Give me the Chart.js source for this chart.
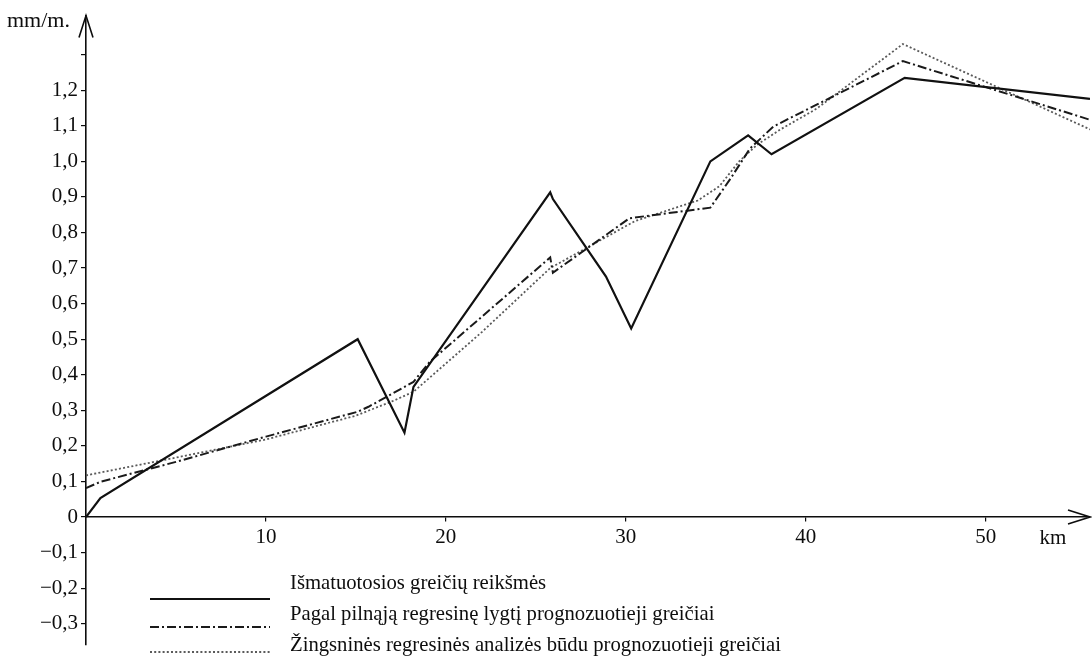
<!DOCTYPE html>
<html>
<head>
<meta charset="utf-8">
<script src="https://cdn.jsdelivr.net/npm/chart.js@4.4.1/dist/chart.umd.min.js"></script>
<style>
  html, body { margin: 0; padding: 0; background: #fff; }
  #wrap { width: 1092px; height: 670px; }
</style>
</head>
<body>
<div id="wrap"><canvas id="myChart" width="1092" height="670"></canvas></div>
<script>
// Išmatuotosios greičių reikšmės (measured)
const measuredKm = [0, 0.8, 15.1, 17.7, 18.2, 25.8, 25.95, 28.9, 30.3, 34.7, 36.8, 38.1, 45.5, 55.8];
const measuredVal = [0, 0.053, 0.50, 0.237, 0.366, 0.913, 0.894, 0.676, 0.53, 1.0, 1.073, 1.02, 1.235, 1.176];

// Pagal pilnąją regresinę lygtį prognozuotieji greičiai
const fullKm = [0, 0.8, 5, 10, 15.1, 15.7, 16.7, 18.2, 19.1, 25.8, 25.95, 30.2, 34.7, 35.8, 36.9, 38.2, 45.4, 55.8];
const fullVal = [0.081, 0.099, 0.155, 0.226, 0.296, 0.31, 0.338, 0.38, 0.436, 0.73, 0.687, 0.84, 0.87, 0.95, 1.036, 1.098, 1.282, 1.117];

// Žingsninės regresinės analizės būdu prognozuotieji greičiai
const stepKm = [0, 5, 10, 15, 17, 18.2, 22, 25.8, 30.5, 34, 35.2, 36.3, 37.3, 38.6, 40.6, 45.4, 55.8];
const stepVal = [0.117, 0.167, 0.218, 0.285, 0.325, 0.352, 0.52, 0.70, 0.832, 0.89, 0.93, 1.0, 1.047, 1.09, 1.148, 1.33, 1.09];

const labels = [
  "Išmatuotosios greičių reikšmės",
  "Pagal pilnąją regresinę lygtį prognozuotieji greičiai",
  "Žingsninės regresinės analizės būdu prognozuotieji greičiai",
];

const serif = "'Liberation Serif', 'DejaVu Serif', serif";
const ink = "#0d0d0d";

const toPoints = (xs, ys) => xs.map((x, i) => ({ x: x, y: ys[i] }));

const fmt = (v) => {
  const r = Math.round(v * 10) / 10;
  if (r === 0) return "0";
  const s = Math.abs(r).toFixed(1).replace(".", ",");
  return r < 0 ? "\u2212" + s : s;
};

// axis arrows, unit labels and legend drawn on the canvas
const decorations = {
  id: "decorations",
  afterDraw(chart) {
    const ctx = chart.ctx;
    const area = chart.chartArea;
    const x0 = chart.scales.x.getPixelForValue(0);
    const y0 = chart.scales.y.getPixelForValue(0);
    ctx.save();
    ctx.strokeStyle = ink;
    ctx.lineWidth = 1.6;
    ctx.beginPath();
    ctx.moveTo(x0 - 7, area.top + 22);
    ctx.lineTo(x0, area.top);
    ctx.lineTo(x0 + 7, area.top + 22);
    ctx.moveTo(area.right - 22, y0 - 7);
    ctx.lineTo(area.right, y0);
    ctx.lineTo(area.right - 22, y0 + 7);
    ctx.stroke();

    ctx.fillStyle = ink;
    ctx.textBaseline = "alphabetic";
    ctx.textAlign = "left";
    ctx.font = "22px " + serif;
    ctx.fillText("mm/m.", 7, 27);
    ctx.font = "21px " + serif;
    ctx.fillText("km", chart.scales.x.getPixelForValue(53.0), y0 + 27);

    // legend
    const rows = [599, 627, 652];
    const textBase = [589, 620, 651];
    chart.data.datasets.forEach((ds, i) => {
      ctx.strokeStyle = ds.borderColor;
      ctx.lineWidth = ds.borderWidth;
      ctx.setLineDash(ds.borderDash || []);
      ctx.beginPath();
      ctx.moveTo(150, rows[i]);
      ctx.lineTo(270, rows[i]);
      ctx.stroke();
      ctx.setLineDash([]);
      ctx.font = "22px " + serif;
      ctx.save();
      ctx.translate(290, textBase[i]);
      ctx.scale(0.94, 1);
      ctx.fillText(ds.label, 0, 0);
      ctx.restore();
    });
    ctx.restore();
  },
};

const data = {
  datasets: [
    {
      label: labels[0],
      data: toPoints(measuredKm, measuredVal),
      borderColor: "#111111",
      borderWidth: 2.2,
      borderDash: [],
    },
    {
      label: labels[1],
      data: toPoints(fullKm, fullVal),
      borderColor: "#1a1a1a",
      borderWidth: 2,
      borderDash: [9, 3, 2, 3],
    },
    {
      label: labels[2],
      data: toPoints(stepKm, stepVal),
      borderColor: "#5a5a5a",
      borderWidth: 1.8,
      borderDash: [2, 2.2],
    },
  ],
};

const config = {
  type: "line",
  data: data,
  options: {
    responsive: false,
    animation: false,
    devicePixelRatio: 1,
    layout: { padding: { top: 13, right: 2, bottom: 25, left: 0 } },
    elements: {
      point: { radius: 0 },
      line: { tension: 0, fill: false },
    },
    plugins: {
      legend: { display: false },
      tooltip: { enabled: false },
    },
    scales: {
      x: {
        type: "linear",
        position: { y: 0 },
        min: 0,
        max: 55.8,
        grid: { drawOnChartArea: false, tickLength: 4, color: ink, lineWidth: 1.2 },
        border: { color: ink, width: 1.6 },
        ticks: {
          stepSize: 10,
          includeBounds: false,
          padding: 4,
          maxRotation: 0,
          color: ink,
          font: { family: serif, size: 21 },
        },
        afterBuildTicks: (s) => {
          s.ticks = s.ticks.filter((t) => t.value > 0 && t.value < 55);
        },
      },
      y: {
        type: "linear",
        min: -0.36,
        max: 1.41,
        afterFit: (s) => {
          s.width = 86;
        },
        grid: { drawOnChartArea: false, tickLength: 5, color: ink, lineWidth: 1.2 },
        border: { color: ink, width: 1.6 },
        ticks: {
          stepSize: 0.1,
          includeBounds: false,
          padding: 3,
          color: ink,
          font: { family: serif, size: 21 },
          callback: (v) => (Math.round(v * 10) === 13 ? "" : fmt(v)),
        },
        afterBuildTicks: (s) => {
          s.ticks = s.ticks.filter((t) => t.value > -0.35 && t.value < 1.35);
        },
      },
    },
  },
  plugins: [decorations],
};

const myChart = new Chart(document.getElementById("myChart"), config);
</script>
</body>
</html>
